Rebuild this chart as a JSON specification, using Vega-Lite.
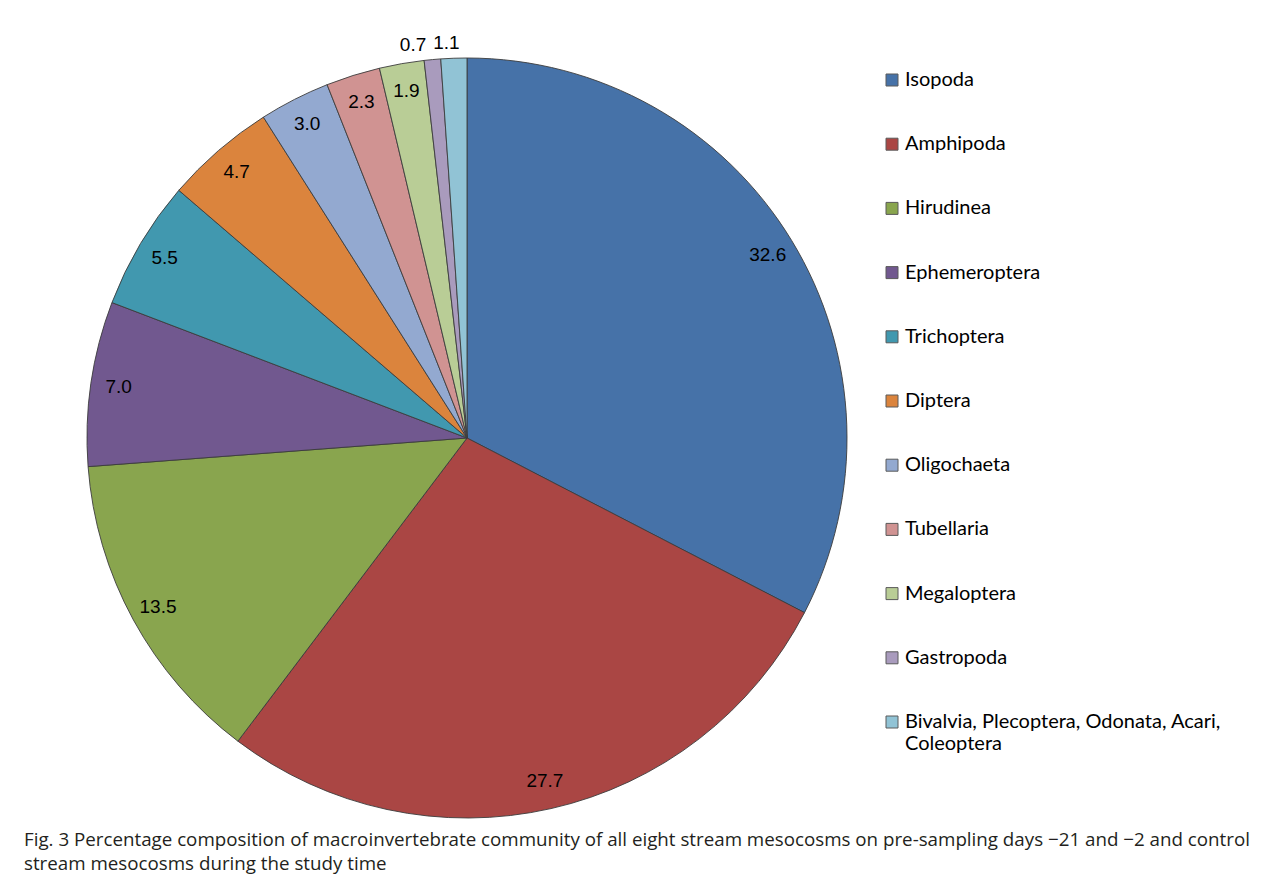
{
  "$schema": "https://vega.github.io/schema/vega-lite/v6.json",
  "autosize": "none",
  "width": 762,
  "height": 740,
  "padding": {"left": 86, "top": 68, "right": 433, "bottom": 75},
  "background": "white",
  "data": {
    "values": [
      {"group": "Isopoda", "pct": 32.6},
      {"group": "Amphipoda", "pct": 27.7},
      {"group": "Hirudinea", "pct": 13.5},
      {"group": "Ephemeroptera", "pct": 7.0},
      {"group": "Trichoptera", "pct": 5.5},
      {"group": "Diptera", "pct": 4.7},
      {"group": "Oligochaeta", "pct": 3.0},
      {"group": "Tubellaria", "pct": 2.3},
      {"group": "Megaloptera", "pct": 1.9},
      {"group": "Gastropoda", "pct": 0.7},
      {"group": "Bivalvia, Plecoptera, Odonata, Acari, Coleoptera", "pct": 1.1}
    ]
  },
  "transform": [
    {"window": [{"op": "row_number", "as": "rank"}]}
  ],
  "title": {
    "text": ["Fig. 3  Percentage composition of macroinvertebrate community of all eight stream mesocosms on pre-sampling days −21 and −2 and control", "stream mesocosms during the study time"],
    "orient": "bottom",
    "anchor": "start",
    "frame": "group",
    "offset": 0,
    "dx": -62,
    "dy": -2,
    "font": "Open Sans",
    "fontSize": 18.75,
    "fontWeight": "normal",
    "lineHeight": 24,
    "color": "#231f20"
  },
  "encoding": {
    "theta": {"field": "pct", "type": "quantitative", "stack": true},
    "order": {"field": "rank", "type": "quantitative"},
    "color": {
      "field": "group",
      "type": "nominal",
      "sort": null,
      "scale": {
        "domain": ["Isopoda", "Amphipoda", "Hirudinea", "Ephemeroptera", "Trichoptera", "Diptera", "Oligochaeta", "Tubellaria", "Megaloptera", "Gastropoda", "Bivalvia, Plecoptera, Odonata, Acari, Coleoptera"],
        "range": ["#4672A8", "#AA4644", "#89A54E", "#71588F", "#4198AF", "#DB843D", "#93A9D0", "#D09392", "#B9CD96", "#A99BBD", "#91C3D5"]
      },
      "legend": {
        "title": null,
        "orient": "right",
        "offset": 32,
        "padding": 2,
        "symbolType": "square",
        "symbolSize": 144,
        "symbolStrokeColor": "#5a5a5a",
        "symbolStrokeWidth": 1,
        "symbolOpacity": 1,
        "labelFont": "Lato",
        "labelFontSize": 20,
        "labelColor": "#000000",
        "labelOffset": 3,
        "labelLimit": 400,
        "rowPadding": 44.2,
        "labelExpr": "datum.label == 'Bivalvia, Plecoptera, Odonata, Acari, Coleoptera' ? ['Bivalvia, Plecoptera, Odonata, Acari,', 'Coleoptera'] : datum.label"
      }
    }
  },
  "layer": [
    {
      "mark": {"type": "arc", "outerRadius": 380, "stroke": "#3c3c3c", "strokeWidth": 0.9}
    },
    {
      "mark": {"type": "text", "radius": 352, "font": "Liberation Sans", "fontSize": 19},
      "encoding": {
        "text": {"condition": {"test": "datum.pct < 1.5", "value": ""}, "field": "pct", "type": "quantitative", "format": ".1f"},
        "color": {"value": "#000000"}
      }
    },
    {
      "mark": {"type": "text", "radius": 395, "align": "center", "dx": -18, "font": "Liberation Sans", "fontSize": 19},
      "encoding": {
        "text": {"condition": {"test": "datum.pct >= 1", "value": ""}, "field": "pct", "type": "quantitative", "format": ".1f"},
        "color": {"value": "#000000"}
      }
    },
    {
      "mark": {"type": "text", "radius": 395, "align": "center", "dx": -7, "font": "Liberation Sans", "fontSize": 19},
      "encoding": {
        "text": {"condition": {"test": "datum.pct < 1 || datum.pct >= 1.5", "value": ""}, "field": "pct", "type": "quantitative", "format": ".1f"},
        "color": {"value": "#000000"}
      }
    }
  ],
  "config": {"view": {"stroke": null}}
}
